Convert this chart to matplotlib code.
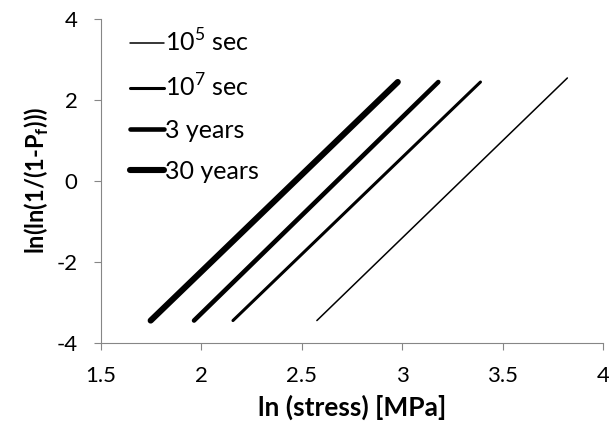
import matplotlib
matplotlib.use('Agg')
import matplotlib.pyplot as plt

plt.rcParams['font.family'] = ['Lato', 'DejaVu Sans']
plt.rcParams['mathtext.fontset'] = 'custom'
plt.rcParams['mathtext.rm'] = 'Lato'
plt.rcParams['axes.unicode_minus'] = False

# ── data (ln stress vs ln(ln(1/(1-Pf)))) ──
labels = [r'10$^\mathregular{5}$ sec', r'10$^\mathregular{7}$ sec', '3 years', '30 years']
x_start = [2.575, 2.157, 1.963, 1.747]
x_end = [3.823, 3.390, 3.180, 2.978]
y_start = [-3.45, -3.45, -3.45, -3.45]
y_end = [2.54, 2.44, 2.44, 2.44]
widths = [1.1, 2.2, 3.3, 4.4]

fig = plt.figure(figsize=(6.09, 4.28), dpi=100)
ax = fig.add_axes([0.166, 0.199, 0.824, 0.757])

for lab, x0, x1, y0, y1, lw in zip(labels, x_start, x_end, y_start, y_end, widths):
    ax.plot([x0, x1], [y0, y1], color='black', lw=lw, solid_capstyle='round', label=lab)

ax.set_xlim(1.5, 4)
ax.set_ylim(-4, 4)
ax.set_xticks([1.5, 2, 2.5, 3, 3.5, 4])
ax.set_xticklabels(['1.5', '2', '2.5', '3', '3.5', '4'])
ax.set_yticks([-4, -2, 0, 2, 4])

for s in ['top', 'right']:
    ax.spines[s].set_visible(False)
for s in ['left', 'bottom']:
    ax.spines[s].set_color('#868686')
ax.tick_params(colors='#868686', labelcolor='black', labelsize=16, length=5, direction='out')
ax.tick_params(axis='y', pad=12)
ax.tick_params(axis='x', pad=12)

ax.set_xlabel('ln (stress) [MPa]', fontsize=19, fontweight='bold', labelpad=6)
ax.set_ylabel(r'ln(ln(1/(1-P$_\mathregular{f}$)))', fontsize=17, fontweight='bold', labelpad=4)

ax.legend(loc='upper left', bbox_to_anchor=(0.013, 1.04), frameon=False, fontsize=18,
          handlelength=1.35, handletextpad=0.05, labelspacing=0.72)

fig.savefig('out.png', dpi=100)
